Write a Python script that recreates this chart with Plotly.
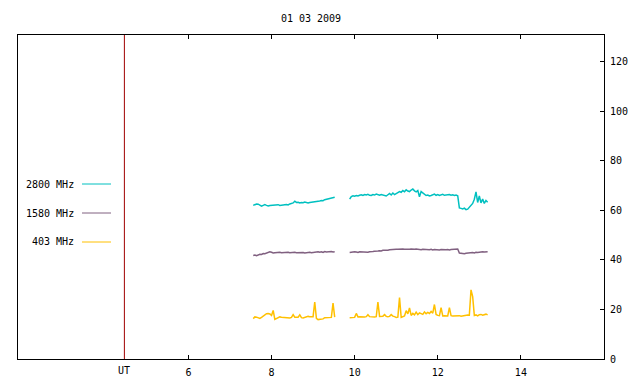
import plotly.graph_objects as go

# ---- data (hours UT, sampled every 0.04 h) ----
seg1_start = 7.56
seg2_start = 9.88
step = 0.04

f2800_seg1 = [62.0, 62.3, 62.6, 62.5, 62.2, 61.7, 62.0, 62.3, 62.0, 61.8,
              62.0, 62.1, 62.2, 62.0, 62.1, 62.3, 62.0, 62.2, 62.1, 62.3,
              62.4, 62.2, 62.6, 62.8, 63.0, 63.7, 63.2, 63.3, 63.0, 63.2,
              63.1, 63.4, 63.2, 63.0, 63.2, 63.3, 63.1, 63.4, 63.6, 63.5,
              63.8, 64.0, 63.9, 64.3, 64.5, 64.4, 64.8, 64.9, 65.1, 65.3]
f2800_seg2 = [64.5, 65.6, 65.9, 65.7, 66.0, 65.8, 66.1, 66.3, 66.0, 66.4,
              66.2, 66.5, 66.1, 66.0, 66.4, 66.2, 66.6, 66.3, 66.1, 66.4,
              66.2, 66.0, 65.8, 66.3, 66.8, 66.2, 67.0, 66.4, 66.7, 67.2,
              67.6, 67.3, 68.0, 67.5, 68.3, 67.8, 67.6, 68.2, 68.6, 67.9,
              67.5, 68.0, 65.5, 67.6, 67.0, 66.4, 66.0, 66.2, 65.8, 66.0,
              66.3, 66.6, 66.1, 66.4, 66.0, 66.3, 66.5, 66.1, 66.2, 66.0,
              66.4, 66.1, 66.3, 66.0, 66.2, 65.9, 61.0, 60.8, 60.6, 60.9,
              60.3, 60.5, 61.2, 62.0, 62.8, 64.5, 67.5, 63.2, 65.8, 63.0,
              64.6, 62.8, 64.0, 63.3]

f1580_seg1 = [41.8, 42.0, 41.7, 42.1, 42.3, 42.2, 42.6, 42.5, 42.8, 43.0,
              43.3, 43.1, 42.8, 42.9, 43.0, 42.8, 43.1, 42.9, 43.0, 42.8,
              43.0, 43.1, 42.9, 43.0, 42.8, 43.1, 42.9, 43.0, 42.8, 42.9,
              43.0, 42.8, 43.0, 42.9, 43.1, 42.9, 43.0, 43.2, 43.0, 43.3,
              43.1, 43.3, 43.0, 43.4, 43.2, 43.3, 43.1, 43.4, 43.2, 43.3]
f1580_seg2 = [43.0, 43.2, 43.1, 43.3, 43.2, 43.0, 43.3, 43.2, 43.1, 43.0,
              43.2, 43.1, 43.3, 43.2, 43.4, 43.5, 43.4, 43.6, 43.7, 43.6,
              43.9, 43.8, 44.0, 43.9, 44.1, 44.2, 44.3, 44.2, 44.3, 44.3,
              44.4, 44.3, 44.4, 44.3, 44.2, 44.4, 44.3, 44.4, 44.2, 44.3,
              44.4, 44.2, 44.3, 44.1, 44.3, 44.2, 44.0, 44.2, 44.1, 44.3,
              44.0, 44.2, 44.1, 44.2, 44.0, 44.2, 44.1, 44.3, 44.1, 44.2,
              44.0, 44.2, 44.3, 44.1, 44.3, 44.4, 42.8, 42.6, 42.7, 42.5,
              42.7, 42.8, 42.7, 42.9, 43.0, 42.8, 43.1, 43.0, 43.2, 43.1,
              43.3, 43.2, 43.4, 43.3]

f403_seg1 = [16.3, 17.0, 16.9, 16.6, 16.4, 16.8, 17.4, 17.9, 18.3, 18.4,
             18.2, 17.6, 19.6, 16.0, 16.3, 16.8, 17.0, 16.9, 16.8, 16.7,
             16.9, 16.7, 16.6, 16.8, 17.9, 16.9, 16.8, 16.9, 17.8, 16.7,
             16.6, 16.9, 17.1, 17.2, 17.1, 17.2, 17.1, 23.0, 16.4, 15.9,
             16.0, 15.9, 16.2, 16.7, 16.8, 16.9, 17.0, 16.8, 22.6, 16.9]
f403_seg2 = [16.7, 16.8, 16.7, 16.8, 18.4, 17.0, 17.1, 17.0, 17.1, 17.0,
             17.1, 17.9, 17.1, 17.0, 17.1, 17.0, 17.1, 23.0, 17.2, 17.1,
             17.3, 17.9, 17.2, 17.1, 17.2, 17.9, 17.3, 17.1, 16.8, 16.9,
             24.8, 16.8, 17.0, 17.4, 19.5, 18.2, 20.6, 17.6, 18.4, 17.8,
             18.9, 17.9, 18.6, 18.2, 18.0, 19.0, 18.3, 18.8, 18.4, 19.2,
             18.5, 22.0, 18.0, 17.6, 17.5, 20.7, 17.4, 17.5, 17.3, 17.4,
             20.7, 17.5, 17.4, 17.5, 17.6, 17.4, 17.5, 17.3, 17.5, 17.4,
             17.6, 17.8, 17.7, 27.9, 25.2, 17.6, 17.8, 17.4, 17.9, 18.0,
             17.7, 17.9, 18.1, 17.8]

series_names = ["2800 MHz", "1580 MHz", "403 MHz"]
series_colors = ["#00c0c0", "#806080", "#ffc000"]
series_data = [(f2800_seg1, f2800_seg2), (f1580_seg1, f1580_seg2), (f403_seg1, f403_seg2)]

x_ticks = [6, 8, 10, 12, 14]
y_ticks = [0, 20, 40, 60, 80, 100, 120]
ut_marker = 4.46
title_text = "01 03 2009"

FONT = "DejaVu Sans Mono"


def times(start, n):
    return [round(start + step * i, 4) for i in range(n)]


fig = go.Figure()
for name, color, (s1, s2) in zip(series_names, series_colors, series_data):
    xs = times(seg1_start, len(s1)) + [None] + times(seg2_start, len(s2))
    ys = s1 + [None] + s2
    fig.add_trace(go.Scatter(x=xs, y=ys, mode="lines", name=name,
                             line=dict(color=color, width=1.5),
                             connectgaps=False, showlegend=False))

# red UT marker line
fig.add_shape(type="line", xref="x", yref="paper", x0=ut_marker, x1=ut_marker,
              y0=0, y1=1, line=dict(color="#a00000", width=1))
fig.add_annotation(x=ut_marker, xref="x", y=0, yref="paper", yanchor="middle",
                   yshift=-11, text="UT", showarrow=False,
                   font=dict(family=FONT, size=10, color="black"))

# gnuplot-style legend: text on the left, sample line on the right
H = 384
W = 640
pl, pr, pt, pb = 18, 604, 35, 359
leg_y = [184, 213, 242]
for name, color, yy in zip(series_names, series_colors, leg_y):
    yp = (pb - yy) / (pb - pt)
    fig.add_annotation(x=(76 - pl) / (pr - pl), xref="paper", y=yp, yref="paper",
                       text=name, showarrow=False, xanchor="right", yanchor="middle",
                       font=dict(family=FONT, size=10, color="black"))
    fig.add_shape(type="line", xref="paper", yref="paper",
                  x0=(82 - pl) / (pr - pl), x1=(111 - pl) / (pr - pl), y0=yp, y1=yp,
                  line=dict(color=color, width=1))

fig.update_layout(
    width=W, height=H,
    margin=dict(l=pl, r=W - pr, t=pt, b=H - pb),
    paper_bgcolor="white", plot_bgcolor="white",
    font=dict(family=FONT, size=10, color="black"),
    title=dict(text=title_text, x=(pl + pr) / 2 / W, xanchor="center",
               y=1 - 18 / H, yanchor="middle", yref="container",
               font=dict(family=FONT, size=10, color="black")),
    xaxis=dict(range=[1.9, 16], tickvals=x_ticks, ticks="inside", ticklen=4,
               tickcolor="black", showline=True, linecolor="black", linewidth=1,
               mirror="ticks", showgrid=False, zeroline=False,
               ticklabelstandoff=4, automargin=False),
    yaxis=dict(range=[0, 130.8], tickvals=y_ticks, side="right", ticks="inside",
               ticklen=4, tickcolor="black", showline=True, linecolor="black",
               linewidth=1, mirror=True, showgrid=False, zeroline=False,
               ticklabelstandoff=3, automargin=False),
)

fig.write_html("out.html", config={"displayModeBar": False},
               post_script="document.body.style.margin='0';document.body.style.overflow='hidden';")
